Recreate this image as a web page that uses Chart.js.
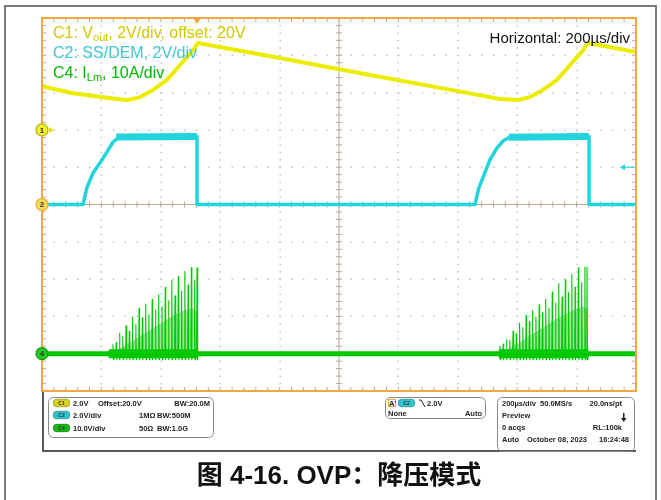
<!DOCTYPE html>
<html>
<head>
<meta charset="utf-8">
<script src="https://cdn.jsdelivr.net/npm/chart.js@4.4.0/dist/chart.umd.min.js"></script>
<style>
  html, body { margin: 0; padding: 0; background: #fff; }
  canvas { display: block; }
</style>
</head>
<body>
<canvas id="scope" width="661" height="500"></canvas>
<script>
// screen time axis in µs, 200µs/div, 10 divisions
const timeMin = -1000;
const timeMax = 1000;

// C1: Vout (V), 2V/div, offset 20V (marker at +2 div)
const voutTimes  = [-1000, -900, -800, -740, -710, -670, -626, -579, -535, -491, -475, -200, 100, 400, 542, 603, 643, 687, 734, 778, 822, 838, 1000];
const voutValues = [22.34, 21.98, 21.76, 21.64, 21.6, 21.76, 22.14, 22.68, 23.48, 24.28, 24.66, 23.86, 22.96, 22.08, 21.66, 21.6, 21.76, 22.14, 22.68, 23.48, 24.28, 24.66, 24.18];

// C2: SS/DEM (V), 2V/div
const ssTimes  = [-1000, -862, -848, -828, -805, -781, -761, -744, -700, -478, -478, 458, 470, 485, 508, 532, 552, 576, 620, 842, 842, 1000];
const ssValues = [0, 0, 0.94, 1.69, 2.22, 2.82, 3.35, 3.57, 3.65, 3.65, 0, 0, 0.85, 1.45, 2.39, 3.03, 3.4, 3.62, 3.65, 3.65, 0, 0];
// noisy plateau band of C2 (null splits the two plateaus)
const ssBandTimes  = [-750, -479, -478, 572, 841];
const ssBandValues = [3.62, 3.65, null, 3.6, 3.65];

// C4: I_Lm (A), 10A/div, switching bursts
const burst1Times = [-761, -750, -739, -728, -717, -706, -695, -684, -673, -662, -651, -640, -629, -618, -607, -596, -585, -574, -563, -552, -541, -530, -519, -508, -497, -486, -478];
const burst1Peaks = [2.4, 3.0, 5.5, 4.6, 7.5, 6.0, 9.8, 7.8, 12.2, 9.6, 13.3, 10.4, 14.5, 11.8, 15.8, 12.6, 17.8, 14.2, 19.7, 15.5, 20.7, 16.8, 22.0, 18.4, 23.1, 19.6, 23.0];
const burst2Times = [542, 553, 564, 575, 586, 597, 608, 619, 630, 641, 652, 663, 674, 685, 696, 707, 718, 729, 740, 751, 762, 773, 784, 795, 806, 817, 828, 835];
const burst2Peaks = [2.0, 2.6, 3.8, 3.6, 6.0, 5.4, 8.2, 7.0, 10.2, 8.6, 11.6, 9.8, 13.1, 11.0, 14.6, 12.2, 16.5, 13.6, 18.8, 15.2, 19.8, 16.4, 21.2, 17.8, 23.0, 19.0, 23.2, 23.2];
const spikeLow = -1.6;
// dense (lighter) region inside each burst
const glow1Times  = [-765, -700, -640, -600, -560, -520, -490, -479, -478];
const glow1Values = [0, 3, 6, 8, 10, 11.5, 12, 11, 0];
const glow2Times  = [545, 610, 670, 710, 750, 790, 820, 834, 835];
const glow2Values = [0, 3, 6, 8, 10, 11.5, 12.5, 12, 0];
// thicker noise floor during bursts
const floorTimes  = [-775, -474, -473, 538, 840];
const floorValues = [0, 0, null, 0, 0];

const baseTimes  = [-1000, 1000];
const baseValues = [0, 0];

const trigTime = -478;   // trigger on C2 falling edge
const trigLevel = 2.0;   // V

function pts(xs, ys) { return xs.map((x, i) => ({x: x, y: ys[i]})); }
// each switching pulse: sharp rise to its peak, drop slightly below zero, back to zero
function spikes(xs, peaks) {
  const out = [];
  xs.forEach((t, i) => {
    out.push({x: t - 1.5, y: 0}, {x: t, y: peaks[i]}, {x: t + 1.5, y: spikeLow}, {x: t + 3, y: 0});
  });
  return out;
}

const YEL = '#ecec00', CYA = '#22d4dc', GRN = '#00c800', GLOW = 'rgba(140,224,140,0.85)';
const FONT = '"Liberation Sans", Arial, sans-serif';

const graticule = {
  id: 'graticule',
  beforeDatasetsDraw(chart) {
    const {ctx, chartArea: a, scales} = chart;
    const x = scales.x, d = scales.yDiv;
    ctx.save();
    ctx.fillStyle = '#c4c4c4';
    for (let i = -4; i <= 4; i++) {
      if (i === 0) continue;
      const px = Math.round(x.getPixelForValue(i * 200));
      for (let m = -24; m <= 24; m++) ctx.fillRect(px - 0.5, d.getPixelForValue(m / 5) - 0.5, 1.5, 1.5);
      const py = Math.round(d.getPixelForValue(i));
      for (let m = -24; m <= 24; m++) ctx.fillRect(x.getPixelForValue(m * 40) - 0.5, py - 0.5, 1.5, 1.5);
    }
    // center axes and border ticks
    const cx = x.getPixelForValue(0), cy = d.getPixelForValue(0);
    ctx.strokeStyle = '#b9aa98';
    ctx.lineWidth = 1;
    ctx.beginPath();
    ctx.moveTo(a.left, cy); ctx.lineTo(a.right, cy);
    ctx.moveTo(cx, a.top); ctx.lineTo(cx, a.bottom);
    for (let m = -24; m <= 24; m++) {
      const px = x.getPixelForValue(m * 40);
      ctx.moveTo(px, cy - 3); ctx.lineTo(px, cy + 3);
      ctx.moveTo(px, a.top); ctx.lineTo(px, a.top + 4);
      ctx.moveTo(px, a.bottom); ctx.lineTo(px, a.bottom - 4);
      const py = d.getPixelForValue(m / 5);
      ctx.moveTo(cx - 3, py); ctx.lineTo(cx + 3, py);
      ctx.moveTo(a.left, py); ctx.lineTo(a.left + 4, py);
      ctx.moveTo(a.right, py); ctx.lineTo(a.right - 4, py);
    }
    ctx.stroke();
    ctx.restore();
  },
  afterDraw(chart) {
    const {ctx, chartArea: a, scales} = chart;
    const x = scales.x;
    ctx.save();
    // outer page frame
    ctx.strokeStyle = '#7a7a7a';
    ctx.lineWidth = 2;
    ctx.beginPath();
    ctx.moveTo(5, 500); ctx.lineTo(5, 6); ctx.lineTo(656, 6); ctx.lineTo(656, 500);
    ctx.stroke();
    // scope status area frame
    ctx.strokeStyle = '#222';
    ctx.lineWidth = 1.5;
    ctx.beginPath();
    ctx.moveTo(a.left + 1, a.bottom); ctx.lineTo(a.left + 1, 451); ctx.lineTo(a.right, 451);
    ctx.stroke();
    // orange plot border
    ctx.strokeStyle = '#f4a640';
    ctx.lineWidth = 2;
    ctx.strokeRect(a.left, a.top, a.right - a.left, a.bottom - a.top);

    // trigger position marker
    const tx = x.getPixelForValue(trigTime);
    ctx.fillStyle = '#f4a640';
    ctx.beginPath();
    ctx.moveTo(tx - 4, a.top); ctx.lineTo(tx + 4, a.top); ctx.lineTo(tx, a.top + 6); ctx.closePath();
    ctx.fill();
    // trigger level arrow (C2)
    const ty = scales.yS.getPixelForValue(trigLevel);
    ctx.strokeStyle = CYA; ctx.fillStyle = CYA; ctx.lineWidth = 1.2;
    ctx.beginPath(); ctx.moveTo(a.right - 14, ty); ctx.lineTo(a.right - 2, ty); ctx.stroke();
    ctx.beginPath(); ctx.moveTo(a.right - 16, ty); ctx.lineTo(a.right - 11, ty - 3); ctx.lineTo(a.right - 11, ty + 3); ctx.closePath(); ctx.fill();

    // channel markers
    const marker = (y, fill, ring, label) => {
      ctx.fillStyle = fill; ctx.strokeStyle = ring; ctx.lineWidth = 1.2;
      ctx.beginPath(); ctx.arc(a.left, y, 6, 0, Math.PI * 2); ctx.fill(); ctx.stroke();
      ctx.fillStyle = '#333'; ctx.font = 'bold 8px ' + FONT;
      ctx.textAlign = 'center'; ctx.textBaseline = 'middle';
      ctx.fillText(label, a.left, y + 0.5);
    };
    const y1 = scales.yV.getPixelForValue(20);
    marker(y1, '#f2ee30', '#b8b000', '1');
    ctx.fillStyle = '#e8e000';
    ctx.beginPath(); ctx.moveTo(a.left + 7, y1 - 3); ctx.lineTo(a.left + 12, y1); ctx.lineTo(a.left + 7, y1 + 3); ctx.closePath(); ctx.fill();
    marker(scales.yS.getPixelForValue(0), '#f3dc50', '#f4a640', '2');
    marker(scales.yI.getPixelForValue(0), '#22cc22', '#119911', '4');

    // trace labels
    ctx.textAlign = 'left'; ctx.textBaseline = 'alphabetic';
    const withSub = (parts, x0, y0, color) => {
      let px = x0;
      ctx.fillStyle = color;
      parts.forEach(([txt, sub]) => {
        ctx.font = (sub ? '11px ' : '16px ') + FONT;
        ctx.fillText(txt, px, y0 + (sub ? 3 : 0));
        px += ctx.measureText(txt).width;
      });
    };
    withSub([['C1: V'], ['out', 1], [', 2V/div, offset: 20V']], 53, 38, '#d2c800');
    withSub([['C2: SS/DEM, 2V/div']], 53, 58, '#3ec8d2');
    withSub([['C4: I'], ['Lm', 1], [', 10A/div']], 53, 78, '#00bb00');
    ctx.fillStyle = '#111'; ctx.font = '15px ' + FONT; ctx.textAlign = 'right';
    ctx.fillText('Horizontal: 200\u00b5s/div', 630, 43);

    // status panel
    const box = (x0, y0, w, h) => {
      ctx.strokeStyle = '#8a8a8a'; ctx.lineWidth = 1;
      ctx.beginPath(); ctx.roundRect(x0 + 0.5, y0 + 0.5, w, h, 5); ctx.stroke();
    };
    const pill = (x0, y0, fill, label) => {
      ctx.fillStyle = fill;
      ctx.beginPath(); ctx.roundRect(x0, y0, 17, 8, 4); ctx.fill();
      ctx.strokeStyle = 'rgba(0,0,0,0.35)'; ctx.lineWidth = 0.6; ctx.stroke();
      ctx.fillStyle = '#333'; ctx.font = 'bold 5px ' + FONT; ctx.textAlign = 'center';
      ctx.fillText(label, x0 + 8.5, y0 + 6);
    };
    const txt = (s, x0, y0, align) => {
      ctx.fillStyle = '#222'; ctx.font = 'bold 7.5px ' + FONT; ctx.textAlign = align || 'left';
      ctx.fillText(s, x0, y0);
    };
    box(48, 397, 165, 40);
    pill(53, 399, '#d8d020', 'C1'); txt('2.0V', 73, 406); txt('Offset:20.0V', 98, 406); txt('BW:20.0M', 210, 406, 'right');
    pill(53, 411, '#30c4cc', 'C2'); txt('2.0V/div', 73, 418); txt('1M\u03a9', 139, 418); txt('BW:500M', 157, 418);
    pill(53, 424, '#18b818', 'C4'); txt('10.0V/div', 73, 431); txt('50\u03a9', 139, 431); txt('BW:1.0G', 157, 431);

    box(385, 397, 100, 21);
    ctx.strokeStyle = '#f4a640'; ctx.strokeRect(388.5, 399.5, 7, 7);
    txt('A\'', 389, 406);
    pill(398, 399, '#30c4cc', 'C2');
    ctx.strokeStyle = '#222'; ctx.lineWidth = 1;
    ctx.beginPath(); ctx.moveTo(419, 400); ctx.lineTo(421, 400); ctx.lineTo(425, 407); ctx.stroke();
    txt('2.0V', 427, 406); txt('None', 388, 416); txt('Auto', 482, 416, 'right');

    box(497, 397, 137, 54);
    txt('200\u00b5s/div', 502, 406); txt('50.0MS/s', 540, 406); txt('20.0ns/pt', 622, 406, 'right');
    txt('Preview', 502, 418);
    ctx.fillStyle = '#222'; ctx.fillRect(623, 413, 1.5, 6);
    ctx.beginPath(); ctx.moveTo(621, 418); ctx.lineTo(626.5, 418); ctx.lineTo(623.75, 422); ctx.closePath(); ctx.fill();
    txt('0 acqs', 502, 430); txt('RL:100k', 622, 430, 'right');
    txt('Auto', 502, 442); txt('October 08, 2023', 527, 442); txt('16:24:48', 629, 442, 'right');

    // caption
    ctx.fillStyle = '#111'; ctx.textAlign = 'center';
    ctx.font = 'bold 26px "Liberation Sans", "Noto Sans CJK SC", sans-serif';
    ctx.fillText('\u56fe 4-16. OVP\uff1a\u964d\u538b\u6a21\u5f0f', 339, 484);
    ctx.restore();
  }
};

const lineDs = (data, color, width, axis, order) => ({
  data: data, borderColor: color, borderWidth: width, yAxisID: axis, order: order,
  pointRadius: 0, tension: 0, fill: false, borderJoinStyle: 'round', spanGaps: false
});

new Chart(document.getElementById('scope'), {
  type: 'line',
  data: {
    datasets: [
      lineDs(pts(voutTimes, voutValues), YEL, 4, 'yV', 0),
      lineDs(pts(ssTimes, ssValues), CYA, 3.5, 'yS', 1),
      lineDs(pts(ssBandTimes, ssBandValues), CYA, 7, 'yS', 1),
      lineDs(spikes(burst1Times, burst1Peaks), GRN, 1.1, 'yI', 2),
      lineDs(spikes(burst2Times, burst2Peaks), GRN, 1.1, 'yI', 2),
      lineDs(pts(floorTimes, floorValues), GRN, 9, 'yI', 3),
      lineDs(pts(baseTimes, baseValues), GRN, 5, 'yI', 3),
      Object.assign(lineDs(pts(glow1Times, glow1Values), GLOW, 1, 'yI', 4),
        {fill: 'origin', backgroundColor: GLOW}),
      Object.assign(lineDs(pts(glow2Times, glow2Values), GLOW, 1, 'yI', 4),
        {fill: 'origin', backgroundColor: GLOW})
    ]
  },
  options: {
    responsive: false,
    animation: false,
    devicePixelRatio: 1,
    layout: {padding: {left: 42, top: 18, right: 25, bottom: 109}},
    plugins: {legend: {display: false}, tooltip: {enabled: false}},
    scales: {
      x: {type: 'linear', min: timeMin, max: timeMax, display: false},
      yDiv: {type: 'linear', min: -5, max: 5, display: false},
      yV: {type: 'linear', min: 6, max: 26, display: false},
      yS: {type: 'linear', min: -10, max: 10, display: false},
      yI: {type: 'linear', min: -10, max: 90, display: false}
    }
  },
  plugins: [graticule]
});
</script>
</body>
</html>
